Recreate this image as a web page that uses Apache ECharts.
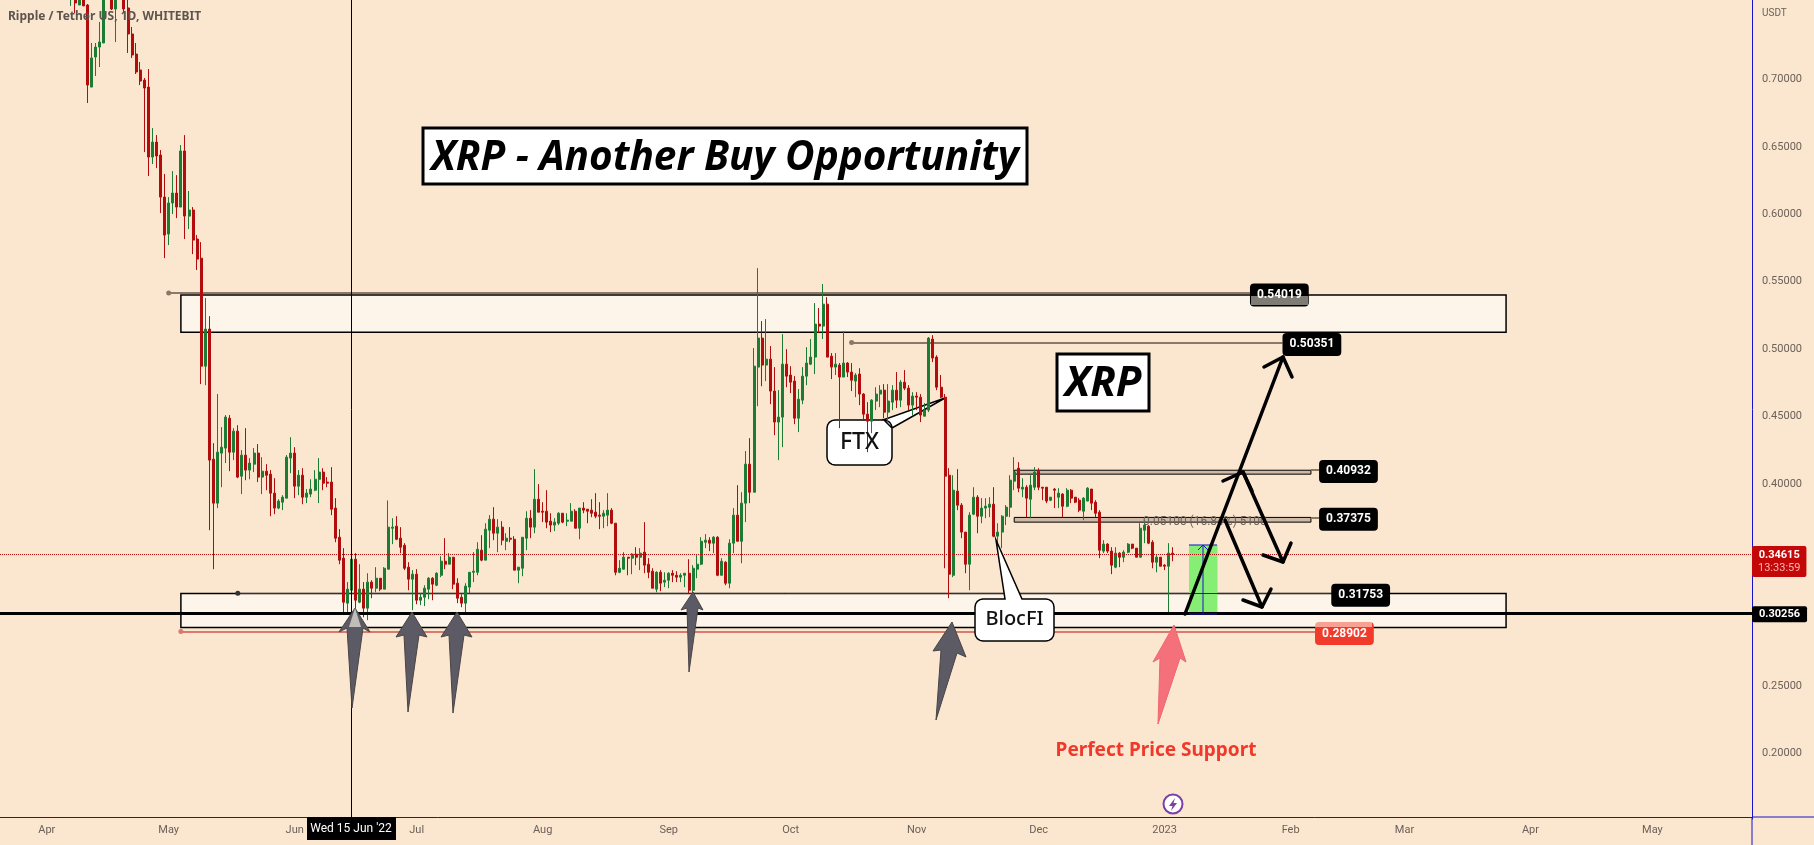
<!DOCTYPE html>
<html>
<head>
<meta charset="utf-8">
<title>XRP - Another Buy Opportunity</title>
<script src="https://cdn.jsdelivr.net/npm/echarts@6/dist/echarts.min.js"></script>
<style>
html, body { margin: 0; padding: 0; background: #fbe6d0; }
#main { width: 1814px; height: 845px; }
</style>
</head>
<body>
<div id="main"></div>
<script>
// daily candles, first one is 2022-04-07
var opens = [
.7597,.7634,.7538,.7612,.7538,.6929,.7152,.7226,.7256,.7723,.7612,.7508,.7686,.762,.7516,.7323,.7174,.7056,.6981,.6929,
.641,.6521,.6425,.6113,.5839,.6069,.6143,.6039,.6455,.5972,.6017,.5802,.566,.4859,.5134,.4169,.3843,.4214,.4251,.4473,
.4221,.4377,.4043,.4199,.4088,.4132,.4214,.4036,.408,.4058,.3917,.3806,.385,.388,.4177,.4214,.3969,.405,.3887,.391,
.3939,.402,.4073,.3999,.3999,.3806,.359,.3435,.3101,.3197,.3427,.3108,.3205,.3064,.3257,.3212,.3286,.3205,.3353,.3657,
.3672,.3583,.353,.3368,.3279,.3316,.3123,.3145,.3205,.3286,.3234,.3308,.3412,.339,.3442,.3249,.3145,.3101,.322,.333,
.333,.3494,.342,.3642,.3724,.362,.3665,.356,.3583,.3575,.3346,.336,.3583,.3731,.3665,.3872,.3783,.3783,.3709,.368,
.3694,.3768,.3709,.3709,.3783,.3657,.3806,.3798,.3791,.3776,.3754,.3746,.3754,.3791,.3694,.333,.3353,.3442,.3435,.3464,
.3442,.3479,.339,.3338,.3205,.333,.3257,.3271,.3323,.3308,.3294,.3308,.3323,.3197,.3353,.339,.3553,.3568,.3546,.359,
.3308,.3405,.3249,.3546,.3754,.356,.3843,.4132,.3924,.4852,.5067,.4867,.4911,.4674,.4444,.4481,.4874,.4793,.4748,.4473,
.4607,.4785,.4874,.4926,.5171,.5156,.5319,.4933,.4852,.4867,.4778,.4882,.4815,.4748,.48,.4652,.4503,.4451,.46,.4652,
.4681,.4518,.4592,.4681,.4607,.474,.4696,.457,.4637,.4629,.4488,.4533,.506,.4926,.4703,.4629,.405,.3308,.3932,.3828,
.3628,.339,.3761,.3887,.3746,.3806,.3813,.3835,.3598,.3628,.3746,.3813,.4006,.4102,.3947,.3961,.3872,.3961,.408,.3961,
.3961,.3865,.3947,.3887,.391,.382,.3939,.3887,.3865,.3783,.3858,.3947,.385,.3776,.3487,.3539,.3487,.3368,.3472,.3442,
.3479,.3539,.3509,.3442,.3642,.3672,.3553,.3405,.3442,.3383,.3375,.3472
];
var closes = [
.7649,.7553,.762,.7531,.6944,.7145,.7226,.7263,.7612,.7612,.7508,.762,.762,.7508,.7323,.7167,.7041,.6974,.6922,.641,
.6521,.6418,.6113,.5831,.6069,.6143,.6039,.6455,.5972,.6017,.5794,.5653,.4859,.5134,.4162,.3843,.4221,.4258,.4481,.4221,
.4377,.4036,.4199,.4088,.414,.4214,.4036,.408,.405,.3917,.3806,.3858,.3887,.4184,.4214,.3969,.405,.3887,.3917,.3947,
.402,.4073,.3991,.3991,.3798,.3583,.342,.3108,.3205,.3427,.3123,.3205,.3064,.3257,.3212,.3286,.3205,.336,.3665,.3665,
.3575,.3516,.336,.3279,.3316,.3123,.3145,.3212,.3286,.3242,.3323,.3412,.339,.3442,.3242,.3138,.3101,.3227,.333,.3338,
.3501,.342,.365,.3724,.362,.3665,.3568,.3583,.3575,.3346,.3368,.359,.3731,.3665,.3872,.3776,.3776,.3702,.368,.3702,
.3768,.3702,.3717,.3783,.3657,.3806,.3791,.3783,.3768,.3746,.3746,.3768,.3791,.3694,.333,.336,.3442,.3435,.3464,.3442,
.3472,.3383,.333,.3212,.333,.3249,.3271,.3323,.3308,.3294,.3308,.3323,.3197,.336,.339,.356,.3568,.3546,.359,.3308,
.3412,.3249,.3546,.3754,.356,.3843,.4132,.3924,.4859,.5067,.4867,.4911,.4674,.4444,.4481,.4874,.4785,.474,.4473,.4614,
.4785,.4882,.4926,.5171,.5156,.5319,.4926,.4852,.4874,.4778,.4882,.4815,.4755,.4793,.4652,.4503,.4451,.4607,.4652,.4681,
.4518,.46,.4681,.4607,.474,.4696,.457,.4637,.4629,.4496,.4533,.5067,.4919,.4703,.4629,.4043,.3316,.3939,.3828,.3628,
.339,.3754,.3887,.3746,.3806,.382,.3835,.3598,.3628,.3746,.3813,.4013,.4073,.3954,.3961,.388,.3976,.4073,.3961,.3954,
.3858,.3887,.3939,.3917,.382,.3939,.388,.385,.3791,.388,.3954,.3843,.3768,.3494,.3539,.3487,.3383,.3472,.3442,.3479,
.3539,.3509,.3442,.3657,.368,.3546,.3405,.3442,.3375,.3375,.3472,.3461
];
var lows = [
.7531,.7479,.7538,.7531,.6811,.6929,.7011,.7078,.7256,.759,.7501,.7263,.7597,.7479,.7182,.7145,.7026,.6944,.6447,.6269,
.6358,.6328,.5994,.566,.5757,.5987,.5957,.6039,.5802,.5876,.569,.5572,.4726,.4718,.3642,.3353,.3806,.3961,.414,.408,
.4162,.4028,.391,.4013,.402,.4073,.3999,.391,.3939,.3746,.3761,.3798,.3791,.388,.4065,.388,.3902,.3835,.3843,.3887,
.3932,.3843,.3939,.3961,.3754,.3553,.339,.3027,.3027,.3027,.3049,.3101,.2997,.2975,.3138,.3182,.319,.3205,.3353,.3539,
.3568,.3472,.3346,.3197,.3049,.3093,.3086,.3079,.313,.3123,.3227,.3294,.3353,.339,.3205,.3101,.3071,.3027,.3175,.3257,
.3308,.3412,.342,.3509,.3568,.3479,.3531,.3494,.3553,.3346,.3249,.3301,.3494,.3583,.362,.3776,.3702,.3657,.3628,.3635,
.368,.3694,.3672,.3709,.3657,.3575,.3768,.3694,.3739,.3731,.365,.3657,.3672,.3687,.3308,.3323,.3353,.3308,.3316,.3383,
.3346,.3323,.3286,.3212,.3182,.319,.322,.3212,.3257,.3257,.3257,.322,.3175,.3182,.3286,.3383,.3509,.3487,.3472,.3301,
.3308,.3234,.3212,.3472,.356,.3397,.3702,.3843,.3924,.4562,.471,.4748,.4577,.4347,.4162,.4258,.4703,.4659,.4429,.437,
.4577,.4718,.4867,.48,.5104,.506,.4926,.4763,.4793,.4399,.4778,.4778,.4674,.4629,.457,.4459,.4221,.4362,.4533,.4555,
.4473,.4436,.4533,.4548,.4555,.4681,.4533,.4488,.4533,.4444,.4488,.4518,.4889,.4681,.4622,.336,.3138,.3294,.3791,.3583,
.3323,.3197,.3754,.362,.3694,.3731,.3739,.359,.3516,.3509,.368,.3739,.3939,.3924,.3887,.3739,.3731,.3939,.3939,.3865,
.3843,.3858,.3806,.3806,.3739,.3813,.3843,.3843,.3776,.3717,.3858,.3791,.3739,.3435,.3472,.3472,.3316,.336,.3368,.3405,
.3472,.3501,.3442,.3442,.3546,.3539,.336,.333,.3375,.3346,.3025,.3412
];
var highs = [
.7686,.7686,.7664,.7649,.7545,.7256,.7256,.7412,.7634,.7761,.7649,.7649,.7723,.7649,.7575,.7375,.7256,.7115,.6996,.7063,
.6625,.6573,.6462,.6284,.6113,.6306,.6276,.6499,.6573,.6158,.6039,.5831,.5779,.5364,.523,.4288,.4652,.4407,.4496,.4496,
.4399,.4421,.4236,.4399,.4177,.4251,.4281,.4184,.4132,.4088,.4028,.3872,.3902,.4199,.4332,.4258,.4088,.4102,.3947,.402,
.4088,.4177,.4102,.4036,.411,.388,.365,.3509,.3257,.3472,.3472,.339,.3257,.3323,.3271,.3368,.3286,.3368,.3863,.3731,
.3746,.3665,.3546,.3405,.3346,.3353,.3175,.3234,.3294,.3294,.333,.3449,.3583,.3472,.3442,.3286,.3167,.3249,.333,.3479,
.3553,.3605,.3694,.3754,.3813,.3724,.3709,.362,.3665,.3598,.3368,.359,.3783,.3791,.4095,.3984,.385,.3939,.3768,.3731,
.3776,.3768,.3768,.3843,.3798,.3806,.385,.3798,.3872,.3917,.385,.3791,.3917,.3806,.3694,.342,.3479,.3442,.3472,.3516,
.3509,.3702,.3435,.336,.3338,.3346,.333,.333,.3346,.3338,.3323,.3323,.3427,.3383,.3457,.359,.3613,.359,.3598,.3598,
.3435,.3412,.3575,.3806,.3976,.3924,.4229,.4325,.4993,.5586,.5193,.5208,.5008,.4852,.4681,.5097,.4985,.4859,.4785,.4689,
.4852,.5,.506,.5327,.529,.5468,.5371,.4956,.4956,.4882,.5119,.4889,.4882,.4807,.4844,.4659,.4592,.4614,.4703,.4718,
.4726,.4726,.4718,.4815,.4755,.483,.4718,.4666,.4666,.4652,.4585,.5075,.5089,.494,.4793,.4652,.4102,.405,.4095,.3843,
.3628,.3776,.3961,.3902,.388,.388,.3887,.3961,.3694,.3754,.3828,.405,.4184,.4147,.4028,.3976,.405,.411,.4102,.3961,
.3961,.3887,.3954,.3954,.3917,.3954,.3947,.3887,.388,.3887,.3961,.3947,.3865,.3791,.3568,.3546,.3516,.3516,.3479,.3494,
.3546,.3539,.3509,.3694,.3717,.368,.3568,.3457,.3442,.339,.3546,.3516
];

var firstDay = '2022-03-21';   // left edge of the axis
var dayCount = 431;
var firstCandleIndex = 17;
var monthLabels = {
    '2022-04-01': 'Apr', '2022-05-01': 'May', '2022-06-01': 'Jun', '2022-07-01': 'Jul',
    '2022-08-01': 'Aug', '2022-09-01': 'Sep', '2022-10-01': 'Oct', '2022-11-01': 'Nov',
    '2022-12-01': 'Dec', '2023-01-01': '2023', '2023-02-01': 'Feb', '2023-03-01': 'Mar',
    '2023-04-01': 'Apr', '2023-05-01': 'May'
};

var currentPrice = 0.34615;
var supportPrice = 0.30256;
var crosshairDay = '2022-06-15';

var bg = '#fbe6d0';
var bandFill = '#fdf5ea';
var taupe = '#8a7868';
var upColor = '#1c7c34';
var downColor = '#b20c0c';
var blue = '#1a12c8';
var tickColor = '#6b6158';
var font = 'Roboto, "Noto Sans", sans-serif';

var dates = [];
var t0 = Date.parse(firstDay + 'T00:00:00Z');
for (var i = 0; i < dayCount; i++) {
    dates.push(new Date(t0 + i * 86400000).toISOString().slice(0, 10));
}

var candles = dates.map(function (d, i) {
    var k = i - firstCandleIndex;
    if (k < 0 || k >= opens.length) return ['-', '-', '-', '-'];
    return [opens[k], closes[k], lows[k], highs[k]];
});

function blackLabel(price, bgColor) {
    return {
        show: true, position: 'end', distance: 0, offset: [0, 2],
        formatter: price.toFixed(5),
        backgroundColor: bgColor || '#000', color: '#fff',
        fontFamily: font, fontSize: 12, fontWeight: 'bold',
        padding: [6, 7, 5, 7], borderRadius: 4
    };
}

// level line with a dot at its start and a price box at its end
function level(price, from, to, color, bgColor, width) {
    return [
        {
            coord: [from, price], symbol: 'circle', symbolSize: 5,
            itemStyle: { color: '#000' },
            lineStyle: { color: color || taupe, width: width || 2, type: 'solid' },
            label: blackLabel(price, bgColor)
        },
        { coord: [to, price], symbol: 'none' }
    ];
}

function stub(price, from, to) {
    return [
        { coord: [from, price], symbol: 'none', lineStyle: { color: taupe, width: 2, type: 'solid' }, label: blackLabel(price) },
        { coord: [to, price], symbol: 'none' }
    ];
}

function box(x1, p1, x2, p2, fill, border, bw) {
    return [
        { coord: [x1, p1], itemStyle: { color: fill, borderColor: border, borderWidth: bw } },
        { coord: [x2, p2] }
    ];
}

var option = {
    animation: false,
    backgroundColor: bg,
    textStyle: { fontFamily: font },
    grid: { left: 0, top: 0, width: 1752, height: 819 },
    xAxis: {
        type: 'category',
        data: dates,
        offset: -2,
        axisLine: { show: true, lineStyle: { color: blue, width: 1 } },
        axisTick: { show: false },
        splitLine: { show: false },
        axisLabel: {
            color: tickColor, fontSize: 11, margin: 8, hideOverlap: false,
            interval: function (idx, v) { return !!monthLabels[v]; },
            formatter: function (v) { return monthLabels[v] || ''; }
        }
    },
    yAxis: {
        type: 'value',
        position: 'right',
        min: 0.15,
        max: 0.7575,
        interval: 0.05,
        scale: true,
        axisLine: { show: true, lineStyle: { color: blue, width: 1 } },
        axisTick: { show: false },
        splitLine: { show: false },
        axisLabel: {
            margin: 10,
            formatter: function (v) { return (v < 0.19 || v > 0.72) ? '' : '{t|' + v.toFixed(5) + '}'; },
            rich: { t: { color: tickColor, fontSize: 11, padding: [4, 0, 0, 0] } }
        }
    },
    series: [
        {
            type: 'line',
            data: [],
            z: 1,
            silent: true,
            markArea: {
                silent: true,
                z: 1,
                label: { show: false },
                data: [
                    box('2022-05-04', 0.5386, '2023-03-26', 0.5110, bandFill, '#000', 1.5),
                    box('2022-05-04', 0.3172, '2023-03-26', 0.2921, bandFill, '#000', 1.5),
                    box('2022-11-25', 0.4087, '2023-02-06', 0.4058, '#cdb9a5', '#000', 1),
                    box('2022-11-25', 0.3737, '2023-02-06', 0.3702, '#cdb9a5', '#000', 1),
                    box('2023-01-07', 0.3535, '2023-01-14', 0.30256, '#86ee74', 'transparent', 0)
                ]
            },
            markLine: {
                silent: true,
                z: 1,
                precision: 5,
                animation: false,
                data: [
                    level(0.54019, '2022-05-01', '2023-01-22'),
                    level(0.50351, '2022-10-16', '2023-01-30'),
                    level(0.31753, '2022-05-18', '2023-02-11', '#333', null, 1),
                    level(0.28902, '2022-05-04', '2023-02-07', '#d97a6c', '#f23a2a'),
                    stub(0.40932, '2023-02-06', '2023-02-08'),
                    stub(0.37375, '2023-02-06', '2023-02-08')
                ]
            }
        },
        {
            type: 'candlestick',
            data: candles,
            z: 3,
            barWidth: 2.5,
            clip: true,
            silent: true,
            itemStyle: {
                color: upColor, color0: downColor,
                borderColor: upColor, borderColor0: downColor,
                borderWidth: 1
            },
            markLine: {
                silent: true,
                z: 5,
                precision: 5,
                animation: false,
                symbol: ['none', 'none'],
                data: [
                    {
                        yAxis: currentPrice,
                        lineStyle: { color: downColor, width: 1, type: 'dotted' },
                        label: {
                            show: true, position: 'end', distance: 0, offset: [0, 7],
                            backgroundColor: '#c40808', padding: [3, 6, 2, 6], borderRadius: 2,
                            formatter: '{a|' + currentPrice.toFixed(5) + '}\n{b|13:33:59}',
                            rich: {
                                a: { color: '#fff', fontFamily: font, fontSize: 11, fontWeight: 'bold', lineHeight: 13, align: 'center' },
                                b: { color: '#f7b4b0', fontFamily: font, fontSize: 11, lineHeight: 13, align: 'center' }
                            }
                        }
                    },
                    {
                        yAxis: supportPrice,
                        lineStyle: { color: '#000', width: 3, type: 'solid' },
                        label: {
                            show: true, position: 'end', distance: 0, offset: [0, 1],
                            backgroundColor: '#000', color: '#fff', padding: [3, 7, 2, 7], borderRadius: 2,
                            fontFamily: font, fontSize: 11, fontWeight: 'bold',
                            formatter: supportPrice.toFixed(5)
                        }
                    },
                    {
                        xAxis: crosshairDay,
                        lineStyle: { color: '#000', width: 1, type: 'solid' },
                        label: { show: false }
                    }
                ]
            }
        }
    ],
    graphic: { elements: annotations() }
};

function poly(points, fill, stroke, z) {
    return {
        type: 'polygon', silent: true, z: z,
        shape: { points: points },
        style: { fill: fill, stroke: stroke || null, lineWidth: 1 }
    };
}

function stroke(points, w, z) {
    return {
        type: 'polyline', silent: true, z: z,
        shape: { points: points },
        style: { stroke: '#000', lineWidth: w, fill: null, lineCap: 'round', lineJoin: 'round' }
    };
}

function label(x, y, text, fill, f, align, z) {
    return {
        type: 'text', silent: true, z: z, x: x, y: y,
        style: { text: text, fill: fill, font: f, textAlign: align || 'left', textVerticalAlign: 'middle' }
    };
}

function rect(x, y, w, h, fill, line, lw, z, r) {
    return {
        type: 'rect', silent: true, z: z,
        shape: { x: x, y: y, width: w, height: h, r: r || 0 },
        style: { fill: fill, stroke: line || null, lineWidth: lw || 0 }
    };
}

// rounded box with a pointer, as one outline; tail goes in along the top edge
function callout(x, y, w, h, r, tail, z) {
    var pts = [[x + r, y]].concat(tail);
    var corner = function (cx, cy, a0) {
        for (var s = 0; s <= 4; s++) {
            var a = a0 + s * Math.PI / 8;
            pts.push([cx + r * Math.cos(a), cy + r * Math.sin(a)]);
        }
    };
    corner(x + w - r, y + r, -Math.PI / 2);
    corner(x + w - r, y + h - r, 0);
    corner(x + r, y + h - r, Math.PI / 2);
    corner(x + r, y + r, Math.PI);
    return {
        type: 'polygon', silent: true, z: z,
        shape: { points: pts },
        style: { fill: '#fff', stroke: '#000', lineWidth: 1.5 }
    };
}

function bigArrow(a, fill, edge) {
    return poly([a.tip, a.wr, a.nr, a.tail, a.nl, a.wl], fill, edge, 20);
}

function annotations() {
    var grey = '#5c5b65', edge = '#4a4444';
    var els = [];

    // FTX sits under the candles, BlocFI covers the support line
    els.push(callout(827, 420, 65, 45, 8, [[883, 420], [945, 398], [892, 428]], 2));
    els.push(callout(975, 599, 79, 42, 8, [[1005, 599], [996, 540], [1022, 599]], 6));
    els.push(label(859.5, 442, 'FTX', '#111', '500 23px "Noto Sans", sans-serif', 'center', 30));
    els.push(label(1014.5, 619, 'BlocFI', '#111', '500 20px "Noto Sans", sans-serif', 'center', 30));

    // titles
    els.push(rect(423, 128, 604, 56, '#fff', '#000', 3, 20));
    els.push(label(725, 158, 'XRP - Another Buy Opportunity', '#000', 'italic bold 40.5px "Open Sans", sans-serif', 'center', 21));
    els.push(rect(1057, 354, 92, 57, '#fff', '#000', 3, 20));
    els.push(label(1103, 384, 'XRP', '#000', 'italic bold 42px "Open Sans", sans-serif', 'center', 21));

    // grey and red pointers
    els.push(bigArrow({ tip: [355, 608], wr: [370, 632], nr: [363, 628], tail: [352, 708], nl: [347, 628], wl: [339, 632] }, grey, edge));
    els.push(poly([[355, 608], [361, 627], [349, 627]], '#c0bcb8', null, 21));
    els.push(bigArrow({ tip: [412, 612], wr: [427, 637], nr: [419, 635], tail: [408, 712], nl: [404, 635], wl: [396, 637] }, grey, edge));
    els.push(bigArrow({ tip: [457, 612], wr: [472, 637], nr: [464, 635], tail: [453, 713], nl: [449, 635], wl: [441, 637] }, grey, edge));
    els.push(bigArrow({ tip: [693, 592], wr: [703, 610], nr: [698, 608], tail: [689, 672], nl: [687, 608], wl: [681, 610] }, grey, edge));
    els.push(bigArrow({ tip: [952, 622], wr: [966, 657], nr: [957, 653], tail: [936, 720], nl: [941, 650], wl: [933, 651] }, grey, edge));
    els.push(bigArrow({ tip: [1174, 625], wr: [1186, 662], nr: [1180, 658], tail: [1158, 724], nl: [1160, 658], wl: [1153, 662] }, '#f4707a', '#f0666e'));
    els.push(label(1156, 751, 'Perfect Price Support', '#f0392b', 'bold 19px "Noto Sans", sans-serif', 'center', 21));

    // measure tool
    els.push(label(1143, 522, '0.05100 (16.84%) 5100', '#6b6158', '12px Roboto, sans-serif', 'left', 6));
    els.push({ type: 'line', silent: true, z: 6, shape: { x1: 1189, y1: 545, x2: 1217, y2: 545 }, style: { stroke: blue, lineWidth: 1 } });
    els.push({ type: 'line', silent: true, z: 6, shape: { x1: 1189, y1: 614, x2: 1217, y2: 614 }, style: { stroke: blue, lineWidth: 1 } });
    els.push({ type: 'line', silent: true, z: 6, shape: { x1: 1203, y1: 545, x2: 1203, y2: 614 }, style: { stroke: blue, lineWidth: 1 } });
    els.push({
        type: 'polyline', silent: true, z: 6, shape: { points: [[1198, 550], [1203, 545], [1208, 550]] },
        style: { stroke: blue, lineWidth: 1, fill: null }
    });

    // path arrows
    els.push(stroke([[1185, 614], [1283, 357]], 3.5, 22));
    els.push(stroke([[1264, 367], [1283, 357], [1292, 377]], 3.5, 22));
    els.push(stroke([[1223, 481], [1243, 472], [1252, 491]], 3.5, 22));
    els.push(stroke([[1243, 472], [1283, 562]], 3.5, 22));
    els.push(stroke([[1263, 555], [1283, 562], [1291, 543]], 3.5, 22));
    els.push(stroke([[1225, 520], [1262, 607]], 3.5, 22));
    els.push(stroke([[1243, 600], [1262, 607], [1271, 589]], 3.5, 22));

    // translucent part of the price boxes under the bands
    els.push(rect(1251, 296, 57, 9, 'rgba(253,245,234,0.5)', null, 0, 25));
    els.push(rect(1315, 620, 57, 7, 'rgba(253,245,234,0.55)', null, 0, 25));

    // corner texts
    els.push(label(8, 17, 'Ripple / Tether US, 1D, WHITEBIT', '#5c544d', 'bold 12px "Noto Sans", sans-serif', 'left', 25));
    els.push(label(1762, 13, 'USDT', tickColor, '10px Roboto, sans-serif', 'left', 25));

    // crosshair date box
    els.push(rect(307, 817, 89, 23, '#000', null, 0, 25));
    els.push(label(351, 829, "Wed 15 Jun '22", '#fff', '12px Roboto, sans-serif', 'center', 26));

    // axis lines continuing past the pane
    els.push({ type: 'line', silent: true, z: 4, shape: { x1: 1752, y1: 817, x2: 1814, y2: 817 }, style: { stroke: blue, lineWidth: 1 } });
    els.push({ type: 'line', silent: true, z: 4, shape: { x1: 1752, y1: 817, x2: 1752, y2: 845 }, style: { stroke: blue, lineWidth: 1 } });

    // lightning badge
    els.push({
        type: 'circle', silent: true, z: 25, shape: { cx: 1173, cy: 804, r: 9.5 },
        style: { fill: '#fff', stroke: '#7b3fa8', lineWidth: 2 }
    });
    els.push(poly([[1175, 798], [1169, 806], [1172.5, 806], [1171, 811], [1177, 803], [1173.5, 803]], '#7b3fa8', null, 26));

    return els;
}

var myChart = echarts.init(document.getElementById('main'));
myChart.setOption(option);
</script>
</body>
</html>
